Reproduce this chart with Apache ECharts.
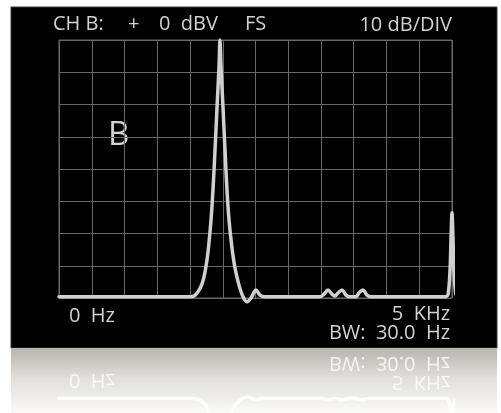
<!DOCTYPE html>
<html>
<head>
<meta charset="utf-8">
<style>
  html, body { margin: 0; padding: 0; background: #ffffff; }
  #chart { width: 501px; height: 413px; }
</style>
<script src="https://cdn.jsdelivr.net/npm/echarts@6/dist/echarts.min.js"></script>
</head>
<body>
<div id="chart"></div>
<script>
// Spectrum trace: frequency (Hz) and level (dB relative to full scale)
const freqHz = [
  0, 1667, 1718, 1768, 1819, 1858, 1896, 1934, 1959, 1985, 2010, 2036, 2048,
  2061, 2087, 2112, 2137, 2163, 2201, 2239, 2290, 2341, 2392, 2443, 2506, 2557, 2621,
  3321, 3372, 3422, 3473, 3511, 3550, 3601, 3652, 3702,
  3779, 3817, 3868, 3919, 3970,
  4911, 4949, 4975, 4987, 5000, 5013, 5025, 5051, 5089, 5254
];
const levelDb = [
  -79.6, -79.6, -79.4, -78.1, -75.7, -71.9, -65.7, -55.8, -46.5, -34.1, -21.1, -8.1, 0,
  -8.1, -21.1, -34.1, -46.5, -55.8, -64.5, -70.7, -76.0, -79.6, -81.2, -80.0, -77.5, -79.1, -79.6,
  -79.6, -78.8, -77.5, -78.8, -79.4, -78.4, -77.5, -79.1, -79.6,
  -79.6, -78.4, -77.5, -79.1, -79.6,
  -79.6, -79.0, -71.3, -62.0, -53.6, -62.0, -71.3, -79.0, -79.6, -79.6
];

// Display range: 12 horizontal divisions, 8 vertical divisions of 10 dB
const freqSpan = [0, 5000];
const freqDivisions = 12;
const levelSpan = [-80, 0];
const levelStep = 10;

// Screen annotations
const headerLeft = ['CH B:', '+', '0  dBV', 'FS'];
const headerRight = '10 dB/DIV';
const channelMark = 'B';
const startLabel = '0  Hz';
const stopLabel = '5  KHz';
const bandwidthLabel = 'BW:  30.0  Hz';

const trace = freqHz.map((f, i) => [f, levelDb[i]]);

const TEXT = '#d2d2d2';
const FONT = '"Open Sans", "DejaVu Sans", sans-serif';
const GRIDC = '#686868';

function xAxisCfg(idx) {
  return {
    type: 'value', gridIndex: idx,
    min: freqSpan[0], max: freqSpan[1],
    interval: (freqSpan[1] - freqSpan[0]) / freqDivisions,
    axisLine: { show: false }, axisTick: { show: false }, axisLabel: { show: false },
    splitLine: { show: idx === 0, lineStyle: { color: GRIDC, width: 1 } }
  };
}
function yAxisCfg(idx, inverse) {
  return {
    type: 'value', gridIndex: idx, inverse: inverse,
    min: levelSpan[0], max: levelSpan[1], interval: levelStep,
    axisLine: { show: false }, axisTick: { show: false }, axisLabel: { show: false },
    splitLine: { show: idx === 0, lineStyle: { color: GRIDC, width: 1 } }
  };
}

function txt(x, y, text, size, align, extra) {
  return Object.assign({
    type: 'text', x: x, y: y,
    style: {
      text: text, fill: TEXT, font: size + 'px ' + FONT,
      textAlign: align, textVerticalAlign: 'middle'
    }
  }, extra || {});
}

const lowerTexts = (fill) => [
  { type: 'text', x: 69, y: 316, style: { text: startLabel, fill: fill, font: '20px ' + FONT, textAlign: 'left', textVerticalAlign: 'middle' } },
  { type: 'text', x: 450, y: 314, style: { text: stopLabel, fill: fill, font: '20px ' + FONT, textAlign: 'right', textVerticalAlign: 'middle' } },
  { type: 'text', x: 450, y: 333.5, style: { text: bandwidthLabel, fill: fill, font: '20px ' + FONT, textAlign: 'right', textVerticalAlign: 'middle' } }
];

const chart = echarts.init(document.getElementById('chart'), null, { renderer: 'canvas' });
chart.setOption({
  backgroundColor: '#ffffff',
  animation: false,
  grid: [
    { left: 59, top: 40, width: 393, height: 258, show: true, borderColor: GRIDC, borderWidth: 1, z: 1 },
    { left: 59, top: 398, width: 393, height: 258, show: false }
  ],
  xAxis: [xAxisCfg(0), xAxisCfg(1)],
  yAxis: [yAxisCfg(0, false), yAxisCfg(1, true)],
  graphic: [
    // screen panel
    { type: 'rect', z: -10, shape: { x: 11, y: 7, width: 486, height: 341 },
      style: { fill: '#000000', stroke: '#3a3a3a', lineWidth: 1 } },
    // reflection floor
    { type: 'rect', z: -10, shape: { x: 11, y: 348, width: 486, height: 65 },
      style: { fill: { type: 'linear', x: 0, y: 0, x2: 0, y2: 1, colorStops: [
        { offset: 0, color: '#b8b4b0' }, { offset: 0.45, color: '#e0ddda' }, { offset: 1, color: '#fbfaf9' }
      ] } } },
    txt(53, 24.5, headerLeft[0], 20, 'left'),
    txt(128, 24.5, headerLeft[1], 20, 'left'),
    txt(159, 24.5, headerLeft[2], 20, 'left'),
    txt(245, 24.5, headerLeft[3], 20, 'left'),
    txt(452, 25, headerRight, 20, 'right'),
    txt(108, 136, channelMark, 33, 'left'),
    ...lowerTexts(TEXT),
    // mirrored annotations on the floor
    { type: 'group', y: 696, scaleY: -1, z: 5, children: lowerTexts('rgba(255,255,255,0.8)') }
  ],
  series: [
    {
      type: 'line', xAxisIndex: 0, yAxisIndex: 0, data: trace,
      showSymbol: false, clip: false, smooth: 0.3, z: 5,
      lineStyle: { color: '#d0d0d0', width: 3.5, join: 'round', cap: 'round' }
    },
    {
      type: 'line', xAxisIndex: 1, yAxisIndex: 1, data: trace,
      showSymbol: false, clip: false, smooth: 0.3, z: 5,
      lineStyle: { color: 'rgba(255,255,255,0.85)', width: 3.5, join: 'round', cap: 'round' }
    }
  ]
});
</script>
</body>
</html>
